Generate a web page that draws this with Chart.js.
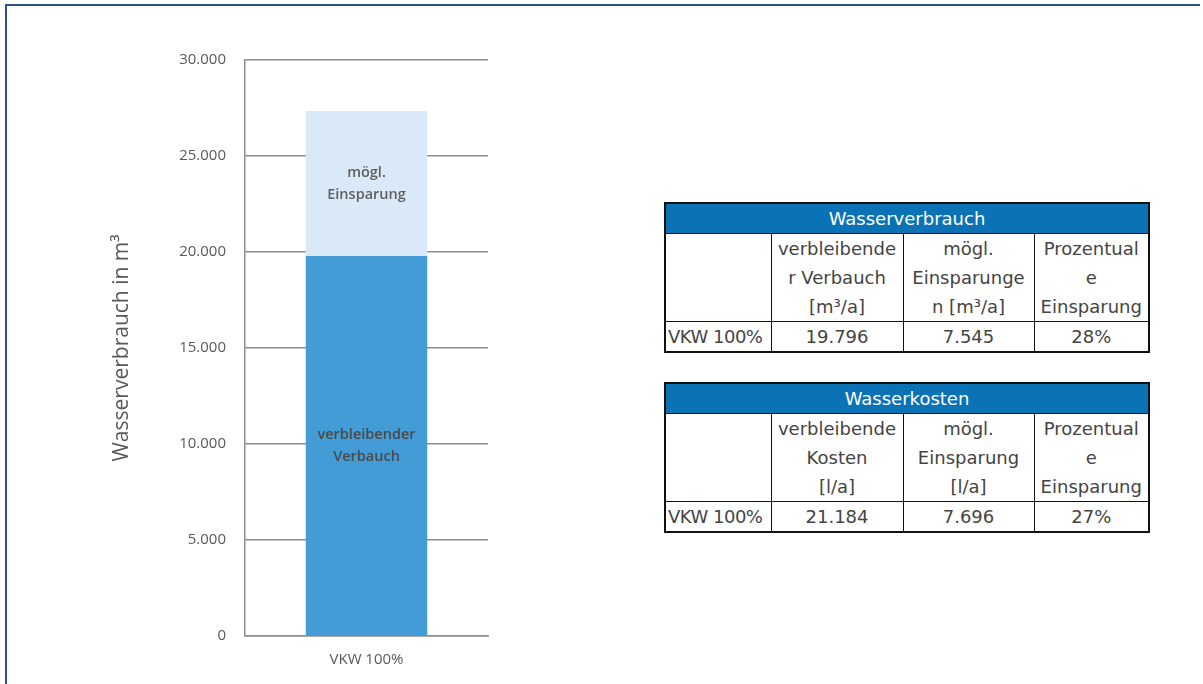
<!DOCTYPE html>
<html lang="de">
<head>
<meta charset="utf-8">
<title>Wasserverbrauch</title>
<script src="https://cdn.jsdelivr.net/npm/chart.js@4.4.1/dist/chart.umd.min.js"></script>
<style>
  html, body { margin: 0; padding: 0; background: #fff; }
  body { width: 1203px; height: 684px; position: relative; overflow: hidden; }
  .frame {
    position: absolute; left: 5px; top: 4px; width: 1193px; height: 700px;
    border-top: 2px solid #2a5288; border-left: 2px solid #2a5288;
  }
  #chartBox { position: absolute; left: 0; top: 0; width: 500px; height: 684px; }
  table.info {
    position: absolute; left: 664px; width: 486px;
    border-collapse: collapse; border: 2px solid #111;
    font-family: "DejaVu Sans", sans-serif; font-size: 18px; color: #444;
    table-layout: fixed;
  }
  table.info td { border: 1px solid #111; text-align: center; padding: 0; line-height: 29px; white-space: nowrap; overflow: hidden; }
  table.info tr.head td { background: #0b73b5; color: #fff; height: 29px; }
  table.info td.rowname { text-align: left; padding-left: 2px; letter-spacing: -0.5px; }
</style>
</head>
<body>
<div class="frame"></div>
<div id="chartBox"><canvas id="chart"></canvas></div>
<div id="tables"></div>

<script>
/* ===============================
   DATA
   =============================== */
const categories = ["VKW 100%"];
const remaining = [19796];
const savings = [7545];
const seriesNames = [["verbleibender", "Verbauch"], ["mögl.", "Einsparung"]];
const yTicks = [0, 5000, 10000, 15000, 20000, 25000, 30000];

const usageTitle = "Wasserverbrauch";
const usageHeads = ["verbleibende<br>r Verbauch<br>[m³/a]", "mögl.<br>Einsparunge<br>n [m³/a]", "Prozentual<br>e<br>Einsparung"];
const usageRow = ["VKW 100%", "19.796", "7.545", "28%"];

const costTitle = "Wasserkosten";
const costHeads = ["verbleibende<br>Kosten<br>[l/a]", "mögl.<br>Einsparung<br>[l/a]", "Prozentual<br>e<br>Einsparung"];
const costRow = ["VKW 100%", "21.184", "7.696", "27%"];

/* ===============================
   NUMBER FORMAT – 30.000
   =============================== */
function formatNumber(v) {
  return v.toLocaleString("de-DE");
}

/* ===============================
   TABLES
   =============================== */
function buildTable(title, heads, row, top) {
  const table = document.createElement("table");
  table.className = "info";
  table.style.top = top + "px";
  table.innerHTML = `
    <colgroup><col style="width:106px"><col style="width:132px"><col style="width:131px"><col></colgroup>
    <tr class="head"><td colspan="4">${title}</td></tr>
    <tr><td></td>${heads.map(h => `<td>${h}</td>`).join("")}</tr>
    <tr>${row.map((c, i) => `<td class="${i === 0 ? "rowname" : ""}">${c}</td>`).join("")}</tr>
  `;
  document.getElementById("tables").appendChild(table);
}

buildTable(usageTitle, usageHeads, usageRow, 202);
buildTable(costTitle, costHeads, costRow, 382);

/* ===============================
   BAR LABELS
   =============================== */
const barLabels = {
  id: "barLabels",
  afterDatasetsDraw(chart) {
    const ctx = chart.ctx;
    ctx.save();
    ctx.font = "600 14.5px 'Open Sans'";
    ctx.textAlign = "center";
    ctx.textBaseline = "middle";
    chart.data.datasets.forEach((ds, i) => {
      const meta = chart.getDatasetMeta(i);
      meta.data.forEach(bar => {
        const lines = seriesNames[i];
        const mid = (bar.y + bar.base) / 2;
        ctx.fillStyle = i === 0 ? "#4a4a4a" : "#5f5f5f";
        lines.forEach((t, k) => {
          ctx.fillText(t, bar.x, mid + (k - (lines.length - 1) / 2) * 22);
        });
      });
    });
    ctx.restore();
  }
};

/* ===============================
   CHART
   =============================== */
const gridColor = "#8c8c8c";

new Chart(document.getElementById("chart"), {
  type: "bar",
  data: {
    labels: categories,
    datasets: [
      { label: seriesNames[0].join(" "), data: remaining, backgroundColor: "#439cd6" },
      { label: seriesNames[1].join(" "), data: savings, backgroundColor: "#d9e9f7" }
    ]
  },
  options: {
    responsive: true,
    maintainAspectRatio: false,
    animation: false,
    layout: { padding: { left: 100, right: 12, top: 60, bottom: 0 } },
    datasets: { bar: { categoryPercentage: 1, barPercentage: 0.5 } },
    plugins: { legend: { display: false }, tooltip: { enabled: false } },
    scales: {
      x: {
        stacked: true,
        grid: { display: false, drawTicks: false },
        border: { color: gridColor, width: 1.5 },
        ticks: { color: "#595959", font: { family: "Open Sans", size: 15 }, padding: 15 },
        afterFit: s => { s.height = 48; }
      },
      y: {
        stacked: true,
        min: 0,
        max: 30000,
        afterBuildTicks: s => { s.ticks = yTicks.map(v => ({ value: v })); },
        grid: { color: gridColor, lineWidth: 1.5, drawTicks: false },
        border: { color: gridColor, width: 1.5 },
        ticks: {
          color: "#595959",
          font: { family: "Open Sans", size: 15 },
          padding: 19,
          callback: v => formatNumber(v)
        },
        title: {
          display: true,
          text: "Wasserverbrauch in m³",
          color: "#595959",
          font: { family: "Open Sans", size: 21 },
          padding: { top: 9, bottom: 0 }
        },
        afterFit: s => { s.width = 145; }
      }
    }
  },
  plugins: [barLabels]
});
</script>
</body>
</html>
